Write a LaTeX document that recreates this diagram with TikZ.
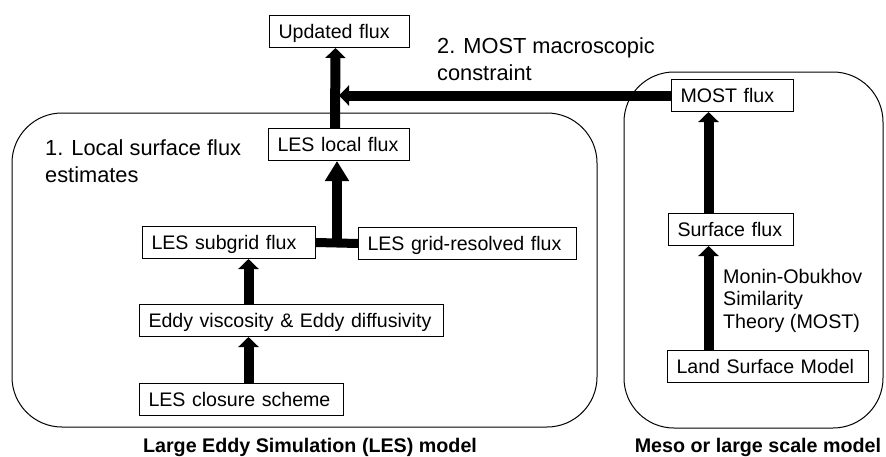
\documentclass[tikz,border=0pt]{standalone}
\usepackage{fontspec}
\setmainfont{Liberation Sans}
\usetikzlibrary{arrows.meta,calc}

\tikzset{
  box/.style={draw, line width=1pt, anchor=north west, align=left,
    text width=#1, inner xsep=9pt, text height=14pt, text depth=0pt,
    minimum height=32pt, font=\fontsize{19.6}{22}\selectfont},
  model/.style={draw, line width=1pt, rounded corners=50pt},
  flow/.style={line width=10pt, -{Triangle[width=20pt,length=10pt]}},
  bigflow/.style={line width=10pt, -{Triangle[width=23pt,length=20pt]}},
  note/.style={anchor=north west, align=left, inner sep=0pt,
    font=\fontsize{21.8}{27}\selectfont},
  caption/.style={anchor=base, inner sep=0pt,
    font=\fontsize{19.7}{22}\selectfont\bfseries}
}

\begin{document}
\begin{tikzpicture}[x=1pt,y=-1pt]
  \useasboundingbox (0,0) rectangle (886,456);

  % the two model frames
  \draw[model] (12,113) rectangle (597,427);
  \draw[model] (624,72) rectangle (883,428);

  % LES side
  \node[box=122pt] (upd) at (269,15) {Updated flux};
  \node[box=123pt] (loc) at (268,128) {LES local flux};
  \node[box=155pt] (sub) at (142,226) {LES subgrid flux};
  \node[box=200pt] (grid) at (358,227) {LES grid-resolved flux};
  \node[box=286pt] (eddy) at (139,304) {Eddy viscosity \& Eddy diffusivity};
  \node[box=186pt] (clos) at (139,383) {LES closure scheme};

  % meso side
  \node[box=104pt] (most) at (671,79) {MOST flux};
  \node[box=107pt] (surf) at (668,213) {Surface flux};
  \node[box=183pt] (lsm) at (667,350) {Land Surface Model};

  % labels
  \node[note] (step1) at (45,139) {1. Local surface flux\\estimates};
  \node[note] (step2) at (437,37.5) {2. MOST macroscopic\\constraint};
  \node[note, font=\fontsize{19.7}{22.5}\selectfont] (theory) at (723,268.6)
    {Monin-Obukhov\\Similarity\\Theory (MOST)};
  \node[caption] (lescap) at (310,452) {Large Eddy Simulation (LES) model};
  \node[caption] (mesocap) at (758,452) {Meso or large scale model};

  % flux paths
  \draw[flow] ([xshift=7pt]clos.north) -- ([xshift=7pt]clos.north |- eddy.south);
  \draw[flow] ([xshift=-43pt]eddy.north) -- ([xshift=-43pt]eddy.north |- sub.south);
  \draw[line width=9pt] (sub.east) -- (grid.west);
  \coordinate (jn) at ($(sub.east)!0.5!(grid.west)$);
  \draw[bigflow] (jn) -- (jn |- loc.south);
  \draw[flow] ([xshift=-4pt]loc.north) -- ([xshift=-4pt]upd.south);

  \draw[flow] ([xshift=-59.5pt]lsm.north) -- ([xshift=-59.5pt]lsm.north |- surf.south);
  \draw[flow] ([xshift=-22.5pt]surf.north) -- ([xshift=-22.5pt]surf.north |- most.south);
  \draw[flow] (most.west) -- (loc.north |- most.west);
\end{tikzpicture}
\end{document}
